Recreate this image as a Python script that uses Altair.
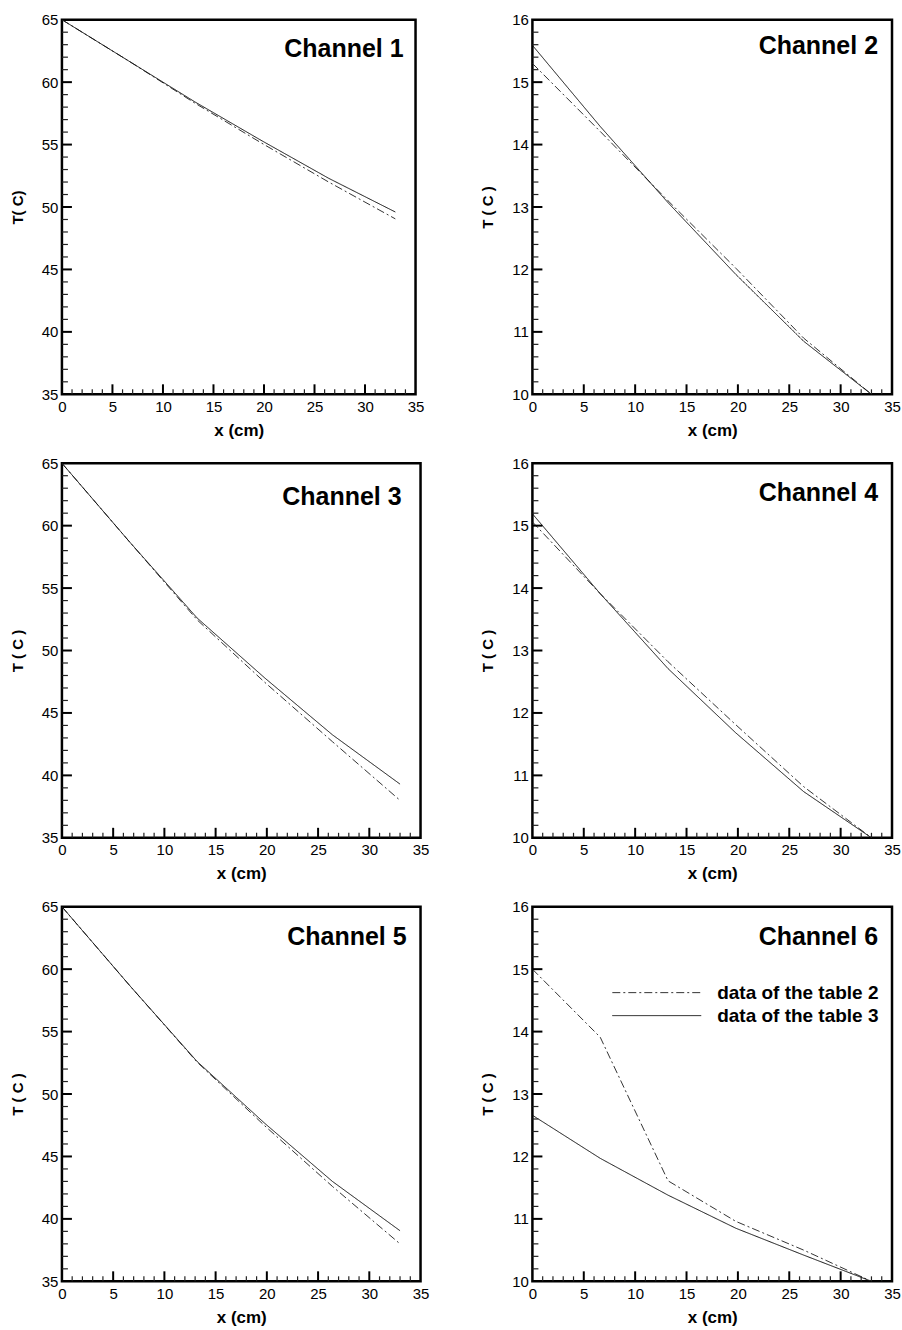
import altair as alt
import pandas as pd

FONT = "Liberation Sans"

# ---- data ----
x_pts = [0, 6.6, 13.2, 19.8, 26.4, 33]
series_names = ["data of the table 2", "data of the table 3"]

ch1_t2 = [65.0, 61.7, 58.3, 55.1, 52.0, 49.05]
ch1_t3 = [65.0, 61.7, 58.4, 55.3, 52.3, 49.6]
ch2_t2 = [15.30, 14.21, 13.10, 12.02, 10.90, 10.0]
ch2_t3 = [15.59, 14.29, 13.07, 11.92, 10.85, 10.0]
ch3_t2 = [65.0, 58.7, 52.45, 47.45, 42.7, 38.0]
ch3_t3 = [65.0, 58.7, 52.6, 47.8, 43.25, 39.3]
ch4_t2 = [15.06, 13.91, 12.82, 11.81, 10.82, 10.0]
ch4_t3 = [15.19, 13.91, 12.71, 11.68, 10.74, 10.0]
ch5_t2 = [65.0, 58.7, 52.55, 47.45, 42.6, 38.0]
ch5_t3 = [65.0, 58.7, 52.6, 47.65, 43.0, 39.05]
ch6_t2 = [15.0, 13.91, 11.61, 10.96, 10.5, 10.0]
ch6_t3 = [12.66, 11.97, 11.38, 10.85, 10.42, 10.0]

# ---- axis ticks / labels ----
x_labels = [0, 5, 10, 15, 20, 25, 30, 35]
x_major = [5, 10, 15, 20, 25, 30]
x_minor = [i for i in range(1, 35) if i % 5]
yA_labels = [35, 40, 45, 50, 55, 60, 65]
yA_major = [40, 45, 50, 55, 60]
yA_minor = [v for v in range(36, 65) if v % 5]
yB_labels = [10, 11, 12, 13, 14, 15, 16]
yB_major = [11, 12, 13, 14, 15]
yB_minor = [round(10 + 0.2 * k, 1) for k in range(1, 30) if k % 5]

H = 375
DASH = [[8, 3, 2, 3], [1, 0]]
COLORS = ["#333333", "#111111"]


def make_panel(t2, t3, ydom, ylabels, ymajor, yminor, width, name, ytitle,
               tx, ty, legend=False):
    df = pd.DataFrame({
        "x": x_pts * 2,
        "T": t2 + t3,
        "series": [series_names[0]] * len(x_pts) + [series_names[1]] * len(x_pts),
    })
    xs = alt.Scale(domain=[0, 35], nice=False, zero=False)
    ys = alt.Scale(domain=ydom, nice=False, zero=False)
    ax_x = alt.Axis(values=x_labels, title="x (cm)", labelFlush=False)
    ax_y = alt.Axis(values=ylabels, title=ytitle)
    X = alt.X("x:Q", scale=xs, axis=ax_x)
    Y = alt.Y("T:Q", scale=ys, axis=ax_y)
    dash = alt.StrokeDash("series:N", scale=alt.Scale(domain=series_names, range=DASH), legend=None)
    col = alt.Color("series:N", scale=alt.Scale(domain=series_names, range=COLORS), legend=None)

    lines = alt.Chart(df).mark_line(strokeWidth=1, clip=True).encode(
        x=X, y=Y, strokeDash=dash, color=col)
    xmaj = alt.Chart(pd.DataFrame({"x": x_major})).mark_rule(color="black", strokeWidth=2).encode(
        x=X, y=alt.value(H), y2=alt.value(H - 10))
    xmin = alt.Chart(pd.DataFrame({"x": x_minor})).mark_rule(color="#222", strokeWidth=1.2).encode(
        x=X, y=alt.value(H), y2=alt.value(H - 5))
    ymaj = alt.Chart(pd.DataFrame({"T": ymajor})).mark_rule(color="black", strokeWidth=2).encode(
        y=Y, x=alt.value(0), x2=alt.value(10))
    ymin = alt.Chart(pd.DataFrame({"T": yminor})).mark_rule(color="#222", strokeWidth=1.2).encode(
        y=Y, x=alt.value(0), x2=alt.value(6))
    label = alt.Chart(pd.DataFrame({"name": [name]})).mark_text(
        align="right", baseline="alphabetic", fontSize=25, fontWeight="bold", font=FONT, color="black"
    ).encode(text="name:N", x=alt.value(width - tx), y=alt.value(ty))

    layers = [lines, xmin, xmaj, ymin, ymaj, label]
    if legend:
        for s, yy in zip(series_names, [86, 109]):
            d = pd.DataFrame({"series": [s]})
            layers.append(alt.Chart(d).mark_rule(strokeWidth=1).encode(
                x=alt.value(80), x2=alt.value(169), y=alt.value(yy), strokeDash=dash, color=col))
            layers.append(alt.Chart(d).mark_text(
                align="left", baseline="middle", fontSize=19, fontWeight="bold", font=FONT, color="black"
            ).encode(text="series:N", x=alt.value(185), y=alt.value(yy)))
    return alt.layer(*layers).properties(width=width, height=H)


p1 = make_panel(ch1_t2, ch1_t3, [35, 65], yA_labels, yA_major, yA_minor, 354, "Channel 1", "T( C)", 12, 37)
p2 = make_panel(ch2_t2, ch2_t3, [10, 16], yB_labels, yB_major, yB_minor, 360, "Channel 2", "T ( C )", 14, 34)
p3 = make_panel(ch3_t2, ch3_t3, [35, 65], yA_labels, yA_major, yA_minor, 359, "Channel 3", "T ( C )", 19, 42)
p4 = make_panel(ch4_t2, ch4_t3, [10, 16], yB_labels, yB_major, yB_minor, 360, "Channel 4", "T ( C )", 14, 38)
p5 = make_panel(ch5_t2, ch5_t3, [35, 65], yA_labels, yA_major, yA_minor, 359, "Channel 5", "T ( C )", 14, 38)
p6 = make_panel(ch6_t2, ch6_t3, [10, 16], yB_labels, yB_major, yB_minor, 360, "Channel 6", "T ( C )", 14, 38,
                legend=True)

chart = alt.concat(p1, p2, p3, p4, p5, p6, columns=2, spacing={"row": 14, "column": 49}).properties(
    padding={"left": 9, "top": 10, "right": 0, "bottom": 0},
    background="white",
).configure_view(
    stroke="black", strokeWidth=2.5
).configure_axis(
    domain=False, ticks=False, grid=False,
    labelFont=FONT, labelFontSize=15, labelColor="black",
    titleFont=FONT, titleFontWeight="bold", titleColor="black",
).configure_axisX(
    labelPadding=5, titleFontSize=17, titlePadding=8,
).configure_axisY(
    labelPadding=4, titleFontSize=15, titlePadding=16,
)

chart.save("out.html", embed_options={"renderer": "svg", "actions": False})
